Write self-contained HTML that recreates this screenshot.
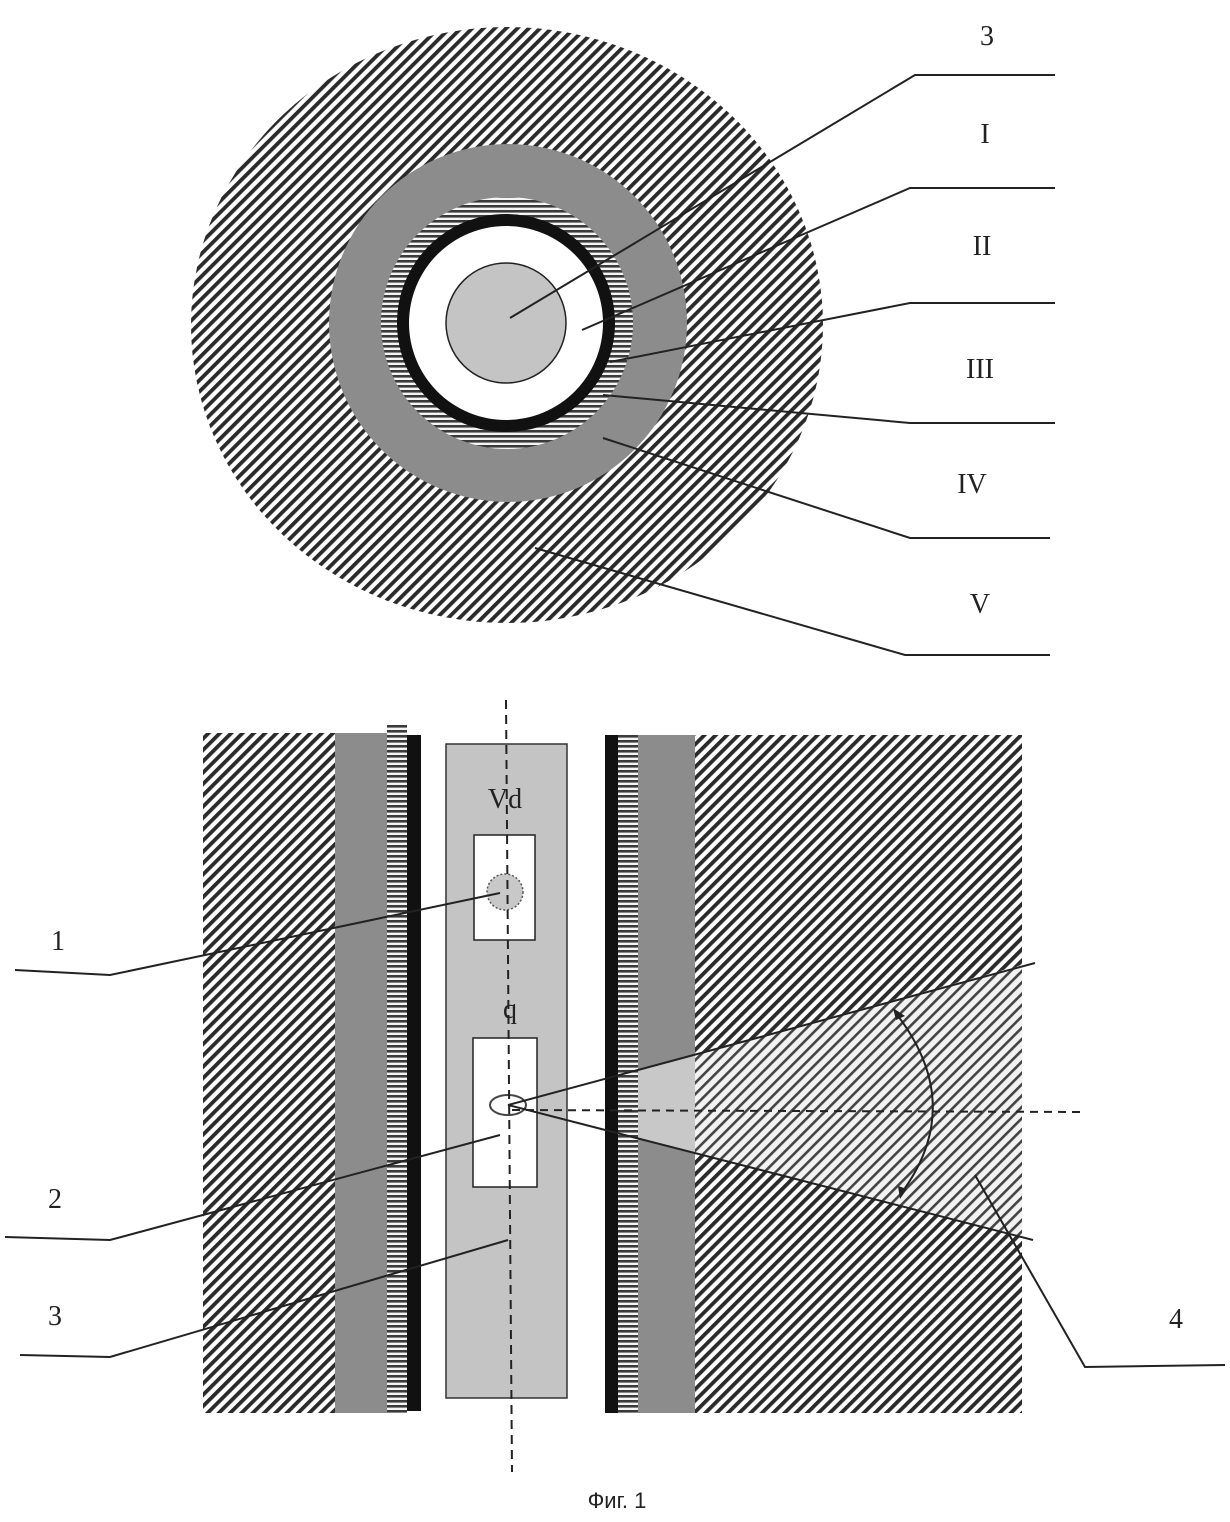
<!DOCTYPE html>
<html><head><meta charset="utf-8"><style>
html,body{margin:0;padding:0;background:#fff;}
svg{display:block;}
text{font-family:"Liberation Serif",serif;fill:#222;}
</style></head><body>
<svg width="1230" height="1522" viewBox="0 0 1230 1522" xmlns="http://www.w3.org/2000/svg">
<defs>
<pattern id="diag" width="8" height="8" patternUnits="userSpaceOnUse" patternTransform="rotate(45)">
<rect width="8" height="8" fill="#fff"/><rect width="3.8" height="8" fill="#2a2a2a"/></pattern>
<pattern id="diagL" width="8" height="8" patternUnits="userSpaceOnUse" patternTransform="rotate(45)">
<rect width="8" height="8" fill="#f2f2f2"/><rect width="2.6" height="8" fill="#444"/></pattern>
<pattern id="hor" width="6" height="5" patternUnits="userSpaceOnUse">
<rect width="6" height="5" fill="#f4f4f4"/><rect width="6" height="2.6" fill="#3a3a3a"/></pattern>
<clipPath id="cone"><polygon points="508,1105 1040,960 1040,1242"/></clipPath>
</defs>
<!-- TOP -->
<ellipse cx="507" cy="325" rx="316" ry="298" fill="url(#diag)"/>
<circle cx="508" cy="323" r="179" fill="#8c8c8c"/>
<circle cx="507" cy="323" r="126" fill="url(#hor)"/>
<circle cx="506" cy="323" r="109" fill="#111"/>
<circle cx="506" cy="323" r="97" fill="#fff"/>
<circle cx="506" cy="323" r="60" fill="#c4c4c4" stroke="#222" stroke-width="1.5"/>
<g stroke="#222" stroke-width="2" fill="none">
<polyline points="510,318 915,75 1055,75"/>
<polyline points="582,330 910,188 1055,188"/>
<polyline points="610,362 910,303 1055,303"/>
<polyline points="603,395 910,423 1055,423"/>
<polyline points="603,438 910,538 1050,538"/>
<polyline points="535,548 905,655 1050,655"/>
</g>
<g font-size="28" text-anchor="middle">
<text x="987" y="45">3</text><text x="985" y="143">I</text><text x="982" y="255">II</text>
<text x="980" y="378">III</text><text x="972" y="493">IV</text><text x="980" y="613">V</text>
</g>
<!-- BOTTOM -->
<rect x="203" y="733" width="133" height="680" fill="url(#diag)"/>
<rect x="335" y="733" width="52" height="680" fill="#8c8c8c"/>
<rect x="387" y="725" width="20" height="688" fill="url(#hor)"/>
<rect x="407" y="735" width="14" height="676" fill="#111"/>
<rect x="605" y="735" width="13" height="678" fill="#111"/>
<rect x="618" y="735" width="20" height="678" fill="url(#hor)"/>
<rect x="638" y="735" width="57" height="678" fill="#8c8c8c"/>
<rect x="695" y="735" width="327" height="678" fill="url(#diag)"/>
<g clip-path="url(#cone)">
<rect x="638" y="900" width="57" height="400" fill="#c8c8c8"/>
<rect x="695" y="900" width="327" height="400" fill="url(#diagL)"/>
</g>
<rect x="446" y="744" width="121" height="654" fill="#c4c4c4" stroke="#333" stroke-width="1.5"/>
<rect x="474" y="835" width="61" height="105" fill="#fff" stroke="#222" stroke-width="1.5"/>
<rect x="473" y="1038" width="64" height="149" fill="#fff" stroke="#222" stroke-width="1.5"/>
<circle cx="505" cy="892" r="18" fill="#c8c8c8" stroke="#555" stroke-width="1.5" stroke-dasharray="2,2"/>
<ellipse cx="508" cy="1105" rx="18" ry="10" fill="#fff" stroke="#444" stroke-width="2"/>
<line x1="506" y1="700" x2="512" y2="1472" stroke="#222" stroke-width="2" stroke-dasharray="9,6"/>
<line x1="512" y1="1110" x2="1080" y2="1112" stroke="#222" stroke-width="2" stroke-dasharray="8,6"/>
<g stroke="#222" stroke-width="2" fill="none">
<line x1="508" y1="1105" x2="1035" y2="963"/>
<line x1="508" y1="1105" x2="1033" y2="1240"/>
<path d="M 895 1012 Q 968 1105 900 1195"/>
<polyline points="15,970 110,975 500,893"/>
<polyline points="5,1237 110,1240 500,1135"/>
<polyline points="20,1355 110,1357 508,1240"/>
<polyline points="1225,1365 1085,1367 975,1175"/>
</g>
<polygon points="893,1008 905,1016 896,1020" fill="#222"/>
<polygon points="900,1199 898,1186 907,1189" fill="#222"/>
<g font-size="28" text-anchor="middle">
<text x="505" y="808">Vd</text><text x="510" y="1018">q</text>
<text x="58" y="950">1</text><text x="55" y="1208">2</text><text x="55" y="1325">3</text><text x="1176" y="1328">4</text>
</g>
<text x="617" y="1508" font-size="22" text-anchor="middle" style="font-family:'Liberation Sans',sans-serif">Фиг. 1</text>
</svg>
</body></html>
